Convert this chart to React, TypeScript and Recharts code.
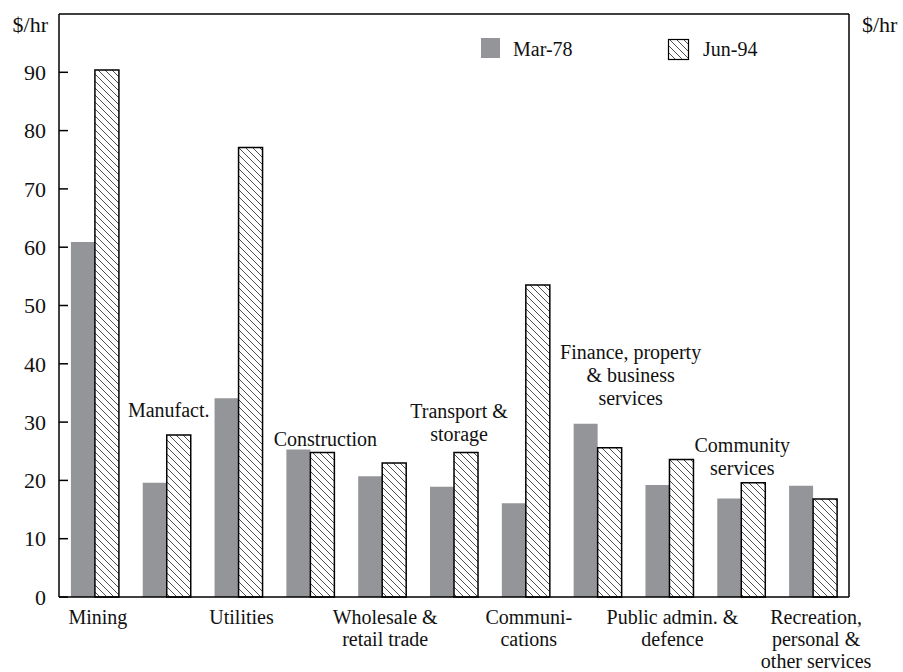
import { BarChart, Bar, XAxis, YAxis, Legend, LabelList, ReferenceLine, Label } from "recharts";

const categories = [
  "Mining",
  "Manufact.",
  "Utilities",
  "Construction",
  "Wholesale & retail trade",
  "Transport & storage",
  "Communications",
  "Finance, property & business services",
  "Public admin. & defence",
  "Community services",
  "Recreation, personal & other services",
];

const categoryLines = [
  ["Mining"],
  ["Manufact."],
  ["Utilities"],
  ["Construction"],
  ["Wholesale &", "retail trade"],
  ["Transport &", "storage"],
  ["Communi-", "cations"],
  ["Finance, property", "& business", "services"],
  ["Public admin. &", "defence"],
  ["Community", "services"],
  ["Recreation,", "personal &", "other services"],
];

const mar78 = [60.9, 19.6, 34.1, 25.3, 20.7, 18.9, 16.1, 29.7, 19.2, 16.9, 19.1];
const jun94 = [90.4, 27.8, 77.1, 24.8, 23.0, 24.8, 53.5, 25.6, 23.6, 19.6, 16.8];

const yTicks = [0, 10, 20, 30, 40, 50, 60, 70, 80, 90];

const seriesKeys = ["mar78", "jun94"];

const data = categories.map((name, i) => ({
  name,
  mar78: mar78[i],
  jun94: jun94[i],
}));

const FONT = "'Liberation Serif', 'Times New Roman', Times, serif";
const GRAY = "#939598";
const LINE_H = 23;
const BOTTOM_LINE_H = 22;
const textStyle = { fontFamily: FONT };

// labels drawn above the bars instead of under the axis
const aboveLayout: Record<number, { dx: number; gap: number }> = {
  1: { dx: 2, gap: 18 },
  3: { dx: 15, gap: 4 },
  5: { dx: 5, gap: 11 },
  7: { dx: 33, gap: 19 },
  9: { dx: 1, gap: 8 },
};

const HatchPattern = ({ id }: { id: string }) => (
  <pattern id={id} width={7} height={7} patternUnits="userSpaceOnUse">
    <rect width={7} height={7} fill="#fff" />
    <path d="M0,0 L7,7 M-1,6 L1,8 M6,-1 L8,1" stroke="#222" strokeWidth={0.8} />
  </pattern>
);

const LeftTick = (props: any) => {
  const { x, y, payload } = props;
  return (
    <g>
      <line x1={x + 13} x2={x + 22} y1={y} y2={y} stroke="#000" strokeWidth={1.5} />
      <text x={x} y={y} dy="0.35em" textAnchor="end" fontSize={22} style={textStyle} fill="#111">
        {payload.value}
      </text>
    </g>
  );
};

const RightTick = (props: any) => {
  const { x, y, payload } = props;
  return (
    <g>
      <line x1={x - 12} x2={x - 21} y1={y} y2={y} stroke="#000" strokeWidth={1.5} />
      <text x={x} y={y} dy="0.35em" textAnchor="start" fontSize={22} style={textStyle} fill="#111">
        {payload.value}
      </text>
    </g>
  );
};

const BottomTick = (props: any) => {
  const { x, y, index } = props;
  if (index % 2 === 1) return null;
  const lines = categoryLines[index];
  return (
    <text x={x + 3} y={y + 27} textAnchor="middle" fontSize={20} style={textStyle} fill="#111">
      {lines.map((l, i) => (
        <tspan key={i} x={x + 3} dy={i === 0 ? 0 : BOTTOM_LINE_H}>
          {l}
        </tspan>
      ))}
    </text>
  );
};

const AboveLabel = (props: any) => {
  const vb = props.viewBox ?? props;
  const index = props.index;
  const layout = aboveLayout[index];
  if (!layout) return null;
  const { x, y, height } = vb;
  const value = jun94[index];
  const scale = height / value;
  const bottom = y + height;
  const top = bottom - Math.max(value, mar78[index]) * scale;
  const lines = categoryLines[index];
  const cx = x + layout.dx;
  const first = top - layout.gap - (lines.length - 1) * LINE_H;
  return (
    <text x={cx} y={first} textAnchor="middle" fontSize={20} style={textStyle} fill="#111">
      {lines.map((l, i) => (
        <tspan key={i} x={cx} dy={i === 0 ? 0 : LINE_H}>
          {l}
        </tspan>
      ))}
    </text>
  );
};

const legendX = [481, 668];

const renderLegend = (props: any) => {
  const payload = [...(props.payload ?? [])].sort(
    (a: any, b: any) => seriesKeys.indexOf(a.dataKey) - seriesKeys.indexOf(b.dataKey)
  );
  return (
    <svg width={903} height={70} style={{ display: "block" }}>
      <defs>
        <HatchPattern id="hatchLegend" />
      </defs>
      {payload.map((p: any, i: number) => (
        <g key={i}>
          {i === 0 ? (
            <rect x={legendX[i]} y={38} width={19} height={20} fill={GRAY} />
          ) : (
            <rect x={legendX[i] + 0.5} y={39.5} width={20} height={20} fill="url(#hatchLegend)" stroke="#000" strokeWidth={1.2} />
          )}
          <text x={legendX[i] + (i === 0 ? 32 : 35)} y={56} fontSize={20} style={textStyle} fill="#111">
            {p.value}
          </text>
        </g>
      ))}
    </svg>
  );
};

const App = () => {
  return (
    <div style={{ position: "absolute", left: 0, top: 0, background: "#fff", fontFamily: FONT }}>
      <BarChart
        width={903}
        height={672}
        data={data}
        margin={{ top: 14, right: 0, left: 0, bottom: 0 }}
        barCategoryGap="16.6%"
        barGap={0}
      >
        <defs>
          <HatchPattern id="hatchBar" />
        </defs>
        <XAxis
          dataKey="name"
          height={75}
          interval={0}
          tickLine={false}
          tickSize={0}
          tickMargin={0}
          axisLine={{ stroke: "#000", strokeWidth: 1.5 }}
          tick={<BottomTick />}
        />
        <YAxis
          yAxisId="left"
          width={59}
          domain={[0, 100]}
          ticks={yTicks}
          tickLine={false}
          tickSize={0}
          tickMargin={13}
          axisLine={{ stroke: "#000", strokeWidth: 1.5 }}
          tick={<LeftTick />}
        >
          <Label
            content={(p: any) => (
              <text x={p.viewBox.x + p.viewBox.width - 11} y={p.viewBox.y + 18} textAnchor="end" fontSize={22} style={textStyle} fill="#111">
                $/hr
              </text>
            )}
          />
        </YAxis>
        <YAxis
          yAxisId="right"
          orientation="right"
          width={54}
          domain={[0, 100]}
          ticks={yTicks}
          tickLine={false}
          tickSize={0}
          tickMargin={12}
          axisLine={{ stroke: "#000", strokeWidth: 1.5 }}
          tick={<RightTick />}
        >
          <Label
            content={(p: any) => (
              <text x={p.viewBox.x + 13} y={p.viewBox.y + 18} textAnchor="start" fontSize={22} style={textStyle} fill="#111">
                $/hr
              </text>
            )}
          />
        </YAxis>
        <ReferenceLine yAxisId="left" y={100} stroke="#000" strokeWidth={1.5} />
        <Legend
          layout="horizontal"
          verticalAlign="middle"
          align="center"
          content={renderLegend}
          wrapperStyle={{ top: 0, left: 0, width: 903 }}
        />
        <Bar yAxisId="left" dataKey="mar78" name="Mar-78" fill={GRAY} isAnimationActive={false} />
        <Bar
          yAxisId="left"
          dataKey="jun94"
          name="Jun-94"
          fill="url(#hatchBar)"
          stroke="#000"
          strokeWidth={1.5}
          isAnimationActive={false}
        >
          <LabelList dataKey="jun94" content={<AboveLabel />} />
        </Bar>
      </BarChart>
    </div>
  );
};

export default App;
